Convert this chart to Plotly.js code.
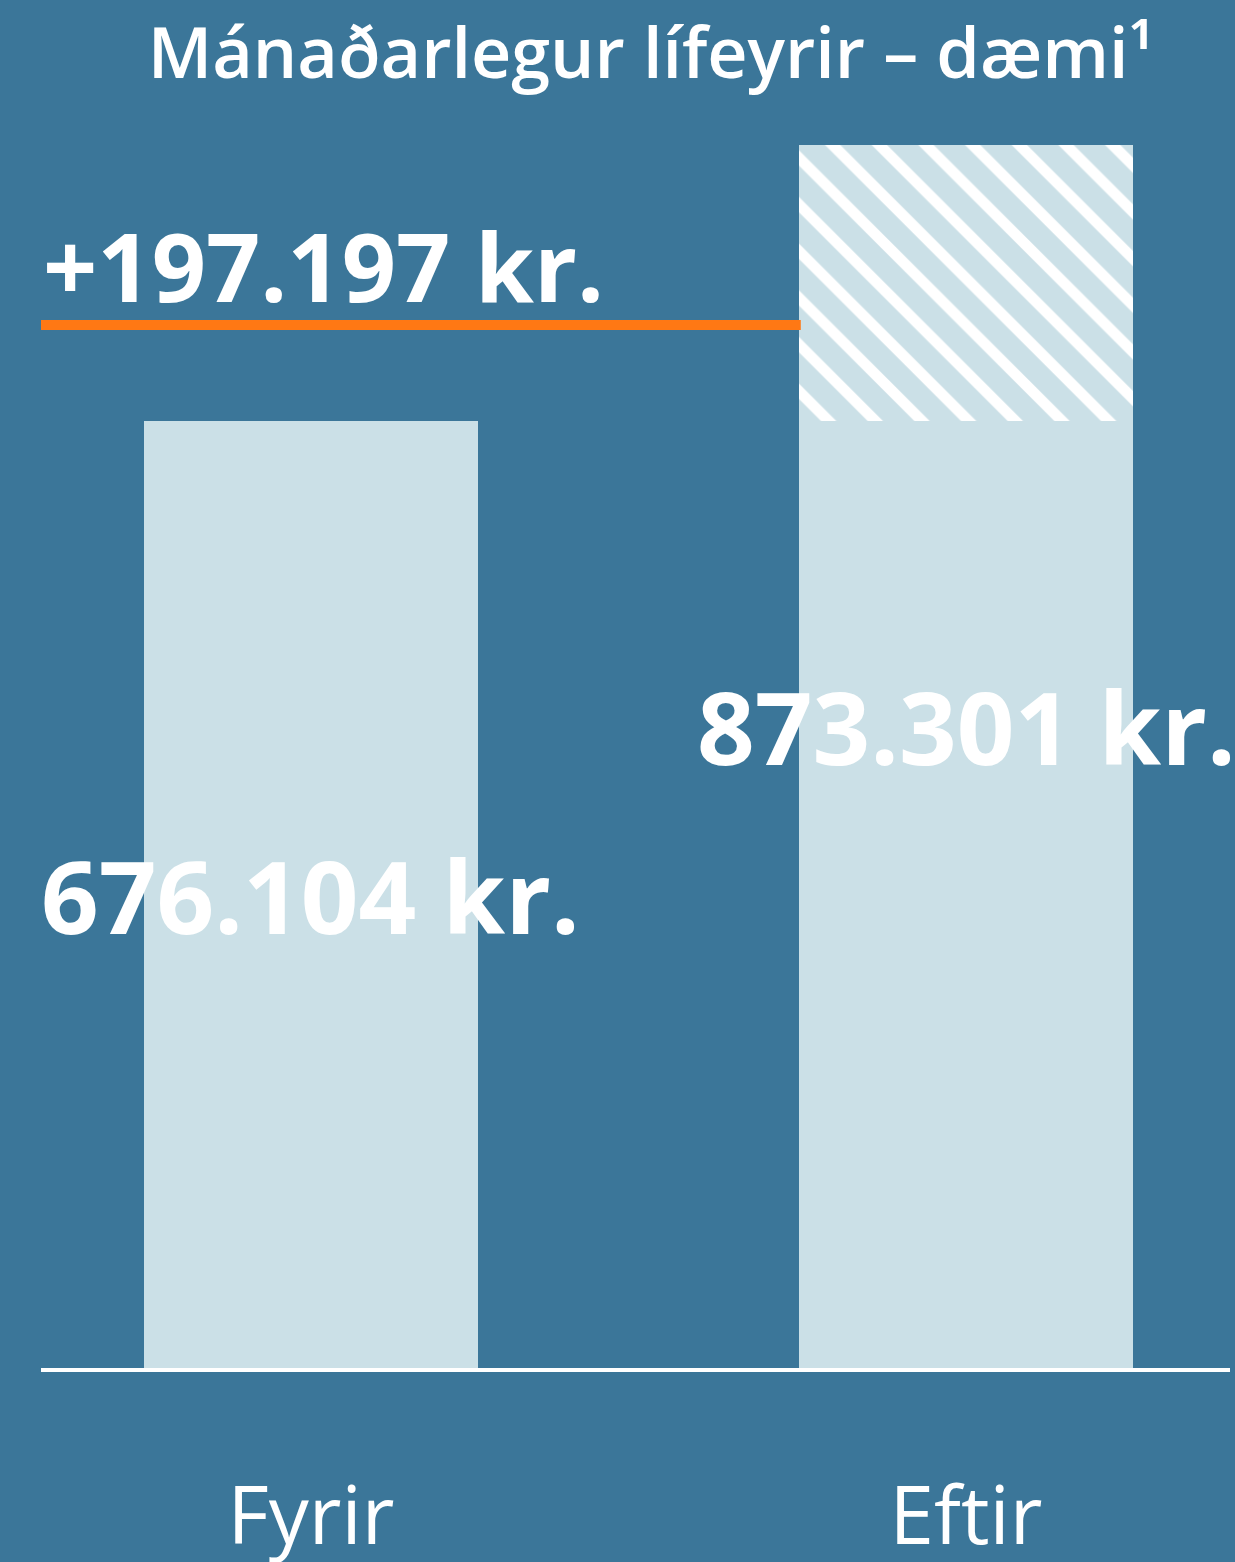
<!DOCTYPE html>
<html><head><meta charset="utf-8">
<script src="https://cdn.plot.ly/plotly-3.0.1.min.js"></script>
<style>html,body{margin:0;padding:0;background:#3B7699;}</style>
</head><body>
<div id="chart" style="width:1235px;height:1562px;"></div>
<script>
const categories = ['Fyrir', 'Eftir'];
const pension = [676104, 873301];
const titleText = 'Mánaðarlegur lífeyrir – dæmi¹';

const increase = pension[1] - pension[0];
const baseVals = [pension[0], pension[0]];
const incVals = [null, increase];
function fmt(v){ return String(v).replace(/\B(?=(\d{3})+(?!\d))/g, '.') + ' kr.'; }

const BG = '#3B7699', BAR = '#CBE0E7';
const bigFont = {family: 'Open Sans, sans-serif', size: 101, color: 'white', weight: 700};
const incFont = {family: 'Open Sans, sans-serif', size: 95, color: 'white', weight: 700};

const traces = [
  {type:'bar', x:categories, y:baseVals, width:0.51, marker:{color:BAR, line:{width:0}}, hoverinfo:'skip'},
  {type:'bar', x:categories, y:incVals, width:0.51,
   marker:{color:BAR, line:{width:0}, pattern:{shape:'\\', fgcolor:'white', bgcolor:BAR, fillmode:'replace', size:33, solidity:0.33}}, hoverinfo:'skip'}
];

const layout = {
  width:1235, height:1562,
  paper_bgcolor:BG, plot_bgcolor:BG,
  margin:{l:41, r:5, t:100, b:194},
  barmode:'stack', showlegend:false,
  title:{text:titleText, x:0.527, xanchor:'center', y:0.966, yanchor:'middle', yref:'container',
         font:{family:'Open Sans, sans-serif', size:70, color:'white', weight:600}},
  xaxis:{type:'category', range:[-0.412, 1.403], showgrid:false, zeroline:false,
         showline:false, ticks:'', ticklabelstandoff:95,
         tickfont:{family:'Open Sans, sans-serif', size:80, color:'white'}},
  yaxis:{range:[0, 905300], visible:false, showgrid:false, zeroline:false},
  shapes:[
    {type:'line', xref:'paper', yref:'paper', x0:0, x1:1, y0:-0.0016, y1:-0.0016, line:{color:'white', width:4}, layer:'above'},
    {type:'line', xref:'paper', yref:'paper', x0:0, x1:0.639, y0:0.8225, y1:0.8225, line:{color:'#FF7814', width:10}}
  ],
  annotations:[
    {x:categories[0], y:pension[0]/2, xref:'x', yref:'y', text:'<b>'+fmt(pension[0])+'</b>', showarrow:false, font:bigFont, xanchor:'center', yanchor:'middle'},
    {x:categories[1], y:pension[1]/2, xref:'x', yref:'y', yshift:30, text:'<b>'+fmt(pension[1])+'</b>', showarrow:false, font:bigFont, xanchor:'center', yanchor:'middle'},
    {x:0, y:0.8225, xref:'paper', yref:'paper', yshift:60, text:'<b>+'+fmt(increase)+'</b>', showarrow:false, font:incFont, xanchor:'left', yanchor:'middle'}
  ]
};
Plotly.newPlot('chart', traces, layout, {displayModeBar:false, staticPlot:true});
</script>
</body></html>
